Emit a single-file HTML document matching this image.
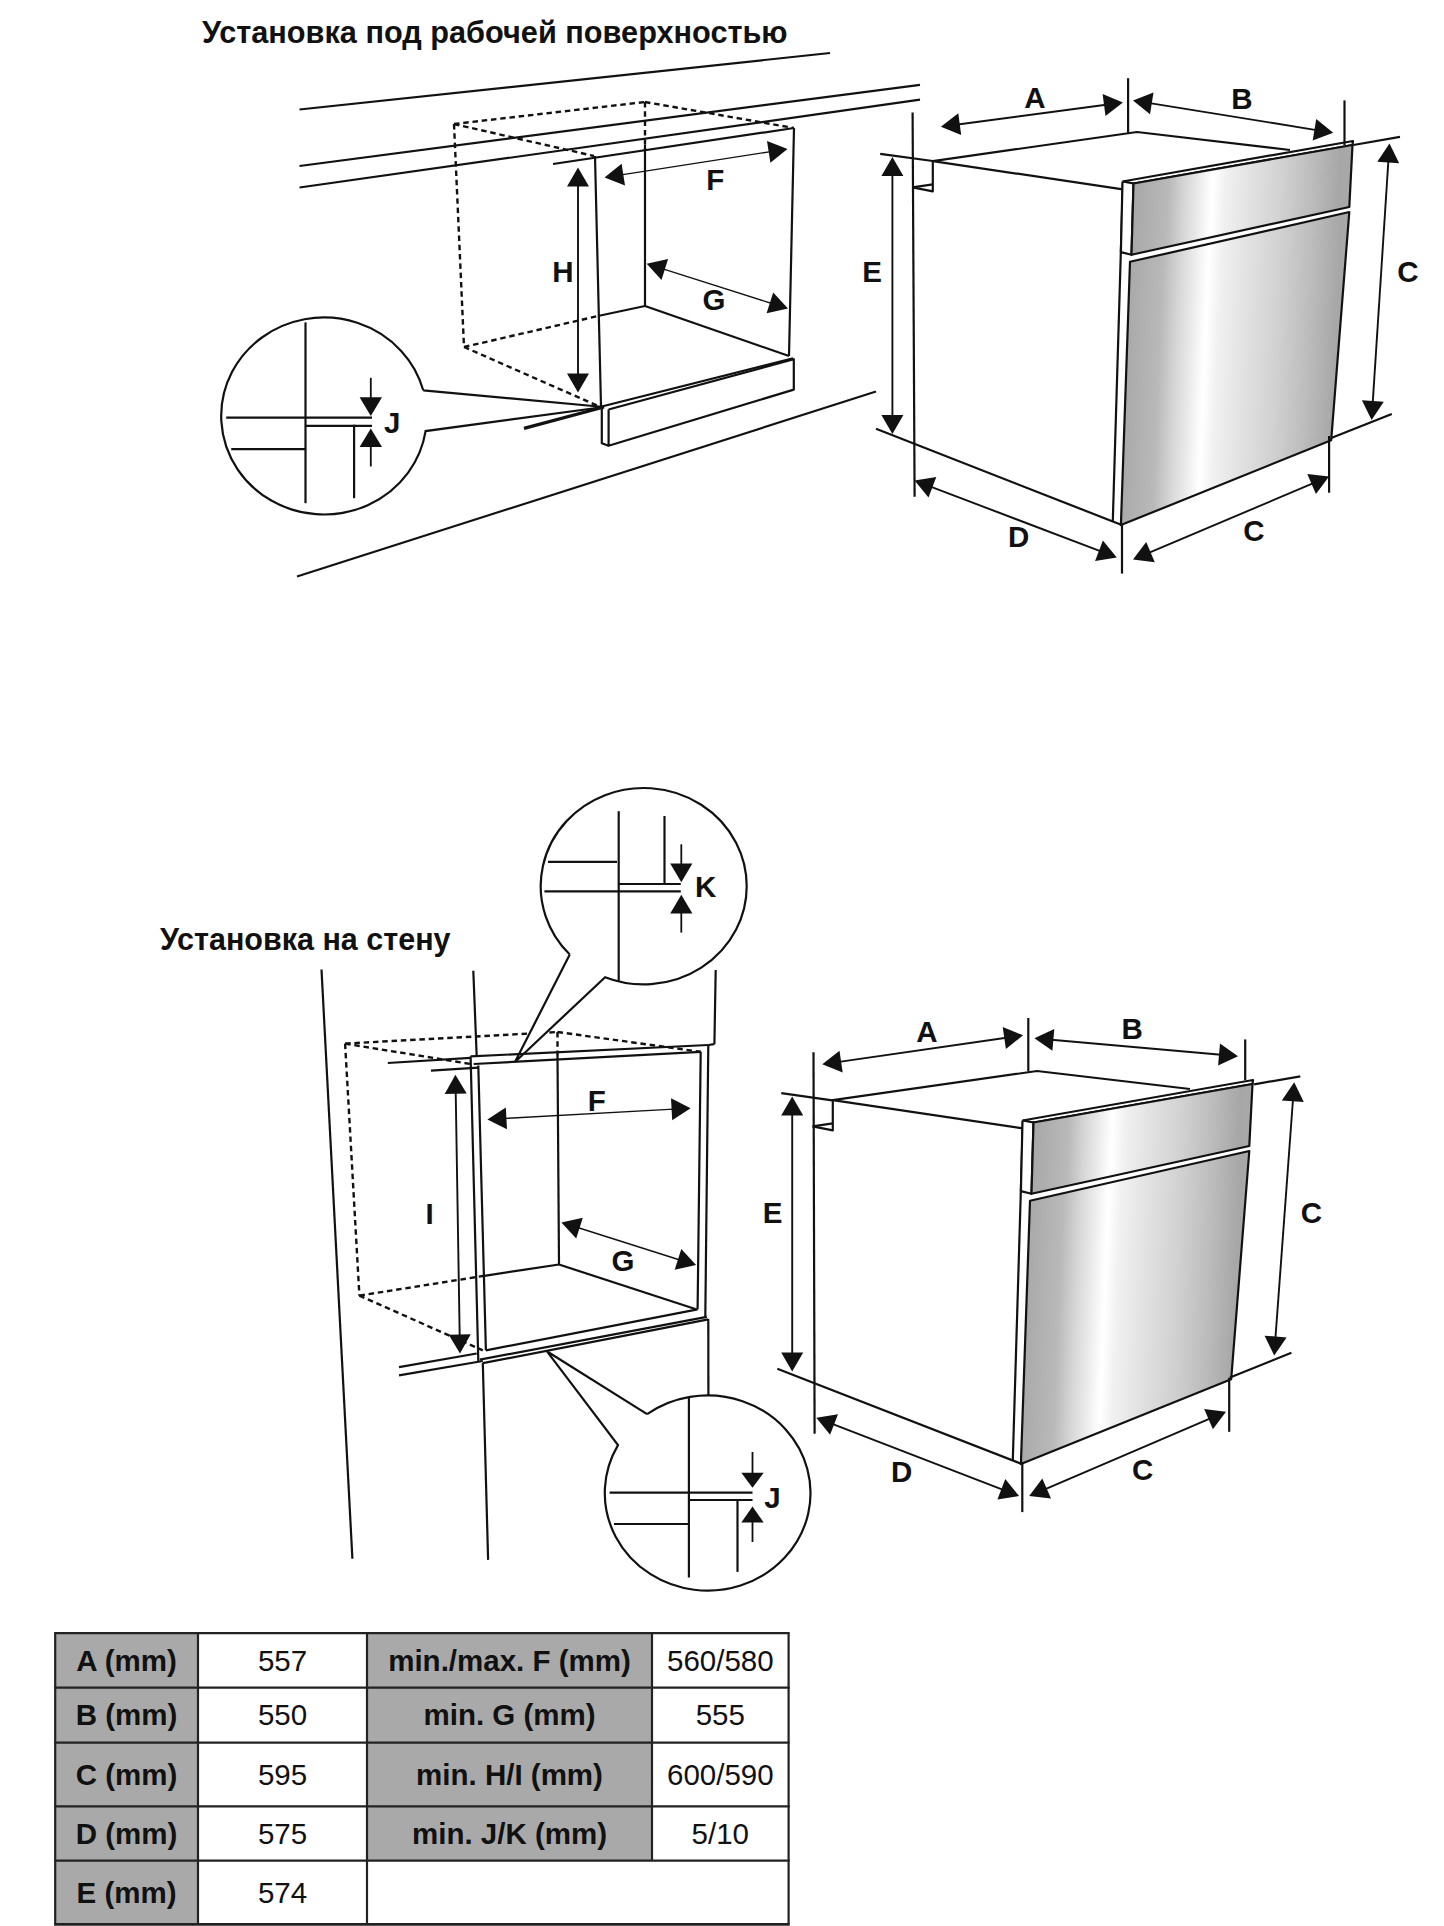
<!DOCTYPE html>
<html><head><meta charset="utf-8"><style>
html,body{margin:0;padding:0;background:#fff;width:1444px;height:1926px;overflow:hidden}
svg{display:block}
text{font-family:"Liberation Sans",sans-serif;fill:#111;stroke:none}
</style></head><body>
<svg width="1444" height="1926" viewBox="0 0 1444 1926" stroke="#111" stroke-linecap="butt" fill="none">
<defs>
<linearGradient id="steelDoor" x1="0" y1="0" x2="1" y2="0" gradientTransform="translate(0.0275,0) skewX(-3.15)">
<stop offset="0" stop-color="#a6a6a6"/>
<stop offset="0.04" stop-color="#ababab"/>
<stop offset="0.166" stop-color="#b9b9b9"/>
<stop offset="0.235" stop-color="#d5d5d5"/>
<stop offset="0.303" stop-color="#ebebeb"/>
<stop offset="0.351" stop-color="#fcfcfc"/>
<stop offset="0.365" stop-color="#ffffff"/>
<stop offset="0.378" stop-color="#fcfcfc"/>
<stop offset="0.419" stop-color="#f1f1f1"/>
<stop offset="0.542" stop-color="#e1e1e1"/>
<stop offset="0.678" stop-color="#d1d1d1"/>
<stop offset="0.815" stop-color="#bcbcbc"/>
<stop offset="0.937" stop-color="#a7a7a7"/>
<stop offset="1" stop-color="#a9a9a9"/>
</linearGradient>
<linearGradient id="steelPanel" x1="0" y1="0" x2="1" y2="0" gradientTransform="translate(0.01,0) skewX(-1.15)">
<stop offset="0" stop-color="#a6a6a6"/>
<stop offset="0.04" stop-color="#ababab"/>
<stop offset="0.166" stop-color="#b9b9b9"/>
<stop offset="0.235" stop-color="#d5d5d5"/>
<stop offset="0.303" stop-color="#ebebeb"/>
<stop offset="0.351" stop-color="#fcfcfc"/>
<stop offset="0.365" stop-color="#ffffff"/>
<stop offset="0.378" stop-color="#fcfcfc"/>
<stop offset="0.419" stop-color="#f1f1f1"/>
<stop offset="0.542" stop-color="#e1e1e1"/>
<stop offset="0.678" stop-color="#d1d1d1"/>
<stop offset="0.815" stop-color="#bcbcbc"/>
<stop offset="0.937" stop-color="#a7a7a7"/>
<stop offset="1" stop-color="#a9a9a9"/>
</linearGradient>
</defs>
<text x="202.0" y="43.3" font-size="30.7" font-weight="bold" text-anchor="start" >Установка под рабочей поверхностью</text>
<text x="160.0" y="949.5" font-size="30.5" font-weight="bold" text-anchor="start" >Установка на стену</text>
<line x1="299.5" y1="109.5" x2="830.0" y2="53.0" stroke-width="2.2" />
<line x1="299.5" y1="166.0" x2="920.0" y2="84.8" stroke-width="2.2" />
<line x1="299.5" y1="187.5" x2="920.0" y2="99.7" stroke-width="2.2" />
<line x1="297.0" y1="576.5" x2="876.0" y2="391.5" stroke-width="2.2" />
<line x1="454.0" y1="124.0" x2="645.0" y2="102.0" stroke-width="2.4" stroke-dasharray="5.5 3.8"/>
<line x1="645.0" y1="102.0" x2="794.0" y2="128.0" stroke-width="2.4" stroke-dasharray="5.5 3.8"/>
<line x1="454.0" y1="124.0" x2="594.0" y2="156.0" stroke-width="2.4" stroke-dasharray="5.5 3.8"/>
<line x1="454.0" y1="124.0" x2="464.0" y2="347.0" stroke-width="2.4" stroke-dasharray="5.5 3.8"/>
<line x1="464.0" y1="347.0" x2="598.0" y2="316.0" stroke-width="2.4" stroke-dasharray="5.5 3.8"/>
<line x1="464.0" y1="347.0" x2="598.0" y2="406.0" stroke-width="2.4" stroke-dasharray="5.5 3.8"/>
<line x1="645.0" y1="102.0" x2="645.0" y2="150.0" stroke-width="2.4" stroke-dasharray="5.5 3.8"/>
<line x1="553.0" y1="164.0" x2="794.0" y2="128.0" stroke-width="2.2" />
<line x1="595.0" y1="156.0" x2="601.0" y2="406.0" stroke-width="2.2" />
<line x1="794.0" y1="128.0" x2="789.0" y2="356.0" stroke-width="2.2" />
<line x1="645.0" y1="145.0" x2="645.0" y2="306.0" stroke-width="2.2" />
<line x1="598.0" y1="316.0" x2="645.0" y2="306.0" stroke-width="2.2" />
<line x1="645.0" y1="306.0" x2="789.0" y2="356.0" stroke-width="2.2" />
<polyline points="601.8,406.5 793.0,358.4" fill="none" stroke-width="2.2" stroke-linejoin="round" />
<polyline points="608.6,409.5 608.6,445.7 793.8,389.6 793.8,359.2 608.6,409.5" fill="none" stroke-width="2.2" stroke-linejoin="round" />
<polyline points="601.8,406.5 601.8,443.2 608.6,445.7" fill="none" stroke-width="2.2" stroke-linejoin="round" />
<polygon points="578.0,167.5 589.0,186.5 567.0,186.5" fill="#111" stroke="none"/>
<polygon points="578.0,392.6 567.0,373.6 589.0,373.6" fill="#111" stroke="none"/>
<line x1="578.0" y1="184.5" x2="578.0" y2="375.6" stroke-width="1.9" />
<polygon points="604.5,177.5 621.6,163.7 625.0,185.4" fill="#111" stroke="none"/>
<polygon points="787.5,149.0 770.4,162.8 767.0,141.1" fill="#111" stroke="none"/>
<line x1="621.3" y1="174.9" x2="770.7" y2="151.6" stroke-width="1.35" />
<polygon points="646.7,263.7 668.1,259.0 661.5,279.9" fill="#111" stroke="none"/>
<polygon points="788.0,308.6 766.6,313.3 773.2,292.4" fill="#111" stroke="none"/>
<line x1="662.9" y1="268.8" x2="771.8" y2="303.5" stroke-width="1.35" />
<text x="563.0" y="281.9" font-size="29.5" font-weight="bold" text-anchor="middle" >H</text>
<text x="715.2" y="190.0" font-size="29.5" font-weight="bold" text-anchor="middle" >F</text>
<text x="714.1" y="309.8" font-size="29.5" font-weight="bold" text-anchor="middle" >G</text>
<path d="M423.24,390.29 L604,407 L425.59,431.08 A102.8,98.5 0 1 1 423.24,390.29" fill="none" stroke-width="2.2" stroke-linejoin="miter"/>
<line x1="524.0" y1="428.4" x2="604.0" y2="407.0" stroke-width="3.2" />
<line x1="305.5" y1="322.4" x2="305.5" y2="503.2" stroke-width="2.2" />
<line x1="226.2" y1="417.7" x2="372.0" y2="417.7" stroke-width="2.2" />
<line x1="306.0" y1="425.9" x2="372.0" y2="425.9" stroke-width="2.2" />
<line x1="354.1" y1="424.7" x2="354.1" y2="498.2" stroke-width="2.2" />
<line x1="231.2" y1="449.1" x2="305.5" y2="449.1" stroke-width="2.2" />
<polygon points="370.8,415.9 359.6,397.2 382.0,397.2" fill="#111" stroke="none"/>
<line x1="370.8" y1="399.2" x2="370.8" y2="377.8" stroke-width="1.8" />
<polygon points="370.8,428.4 382.0,447.1 359.6,447.1" fill="#111" stroke="none"/>
<line x1="370.8" y1="445.1" x2="370.8" y2="466.5" stroke-width="1.8" />
<text x="392.2" y="433.4" font-size="29.5" font-weight="bold" text-anchor="middle" >J</text>
<g transform="translate(0,0)">
<polyline points="912.6,187.4 932.8,191.4 932.8,161.1 1137.0,132.0 1290.0,150.0" fill="none" stroke-width="2.2" stroke-linejoin="round" />
<line x1="912.6" y1="187.4" x2="932.8" y2="184.3" stroke-width="2.2" />
<line x1="932.8" y1="161.1" x2="1122.9" y2="189.4" stroke-width="2.2" />
<line x1="1122.9" y1="183.4" x2="1112.8" y2="521.0" stroke-width="2.2" />
<polyline points="1122.5,181.5 1353.0,141.0 1352.5,145.0 1133.5,183.5 1122.5,181.5" fill="#fff" stroke-width="2.2" stroke-linejoin="round" />
<polyline points="1122.5,181.5 1133.5,183.5 1131.5,254.8 1120.9,252.1 1122.5,181.5" fill="#fff" stroke-width="2.2" stroke-linejoin="round" />
<polygon points="1133.5,183.5 1352.5,145.0 1349.3,207.0 1131.5,254.8" fill="url(#steelPanel)" stroke-width="2.2" stroke-linejoin="round" />
<polygon points="1130.0,261.8 1349.3,212.0 1331.2,440.2 1120.9,525.1" fill="url(#steelDoor)" stroke-width="2.2" stroke-linejoin="round" />
</g>
<line x1="912.6" y1="112.6" x2="914.6" y2="496.8" stroke-width="2.2" />
<line x1="876.0" y1="428.8" x2="1120.5" y2="524.5" stroke-width="2.2" />
<polygon points="940.9,126.7 958.3,113.3 961.2,135.1" fill="#111" stroke="none"/>
<polygon points="1122.9,102.5 1105.5,115.9 1102.6,94.1" fill="#111" stroke="none"/>
<line x1="957.8" y1="124.5" x2="1106.0" y2="104.7" stroke-width="1.9" />
<line x1="1128.1" y1="78.2" x2="1128.1" y2="132.8" stroke-width="2.2" />
<polygon points="1133.0,100.4 1153.5,92.6 1150.0,114.3" fill="#111" stroke="none"/>
<polygon points="1333.2,132.8 1312.7,140.6 1316.2,118.9" fill="#111" stroke="none"/>
<line x1="1149.8" y1="103.1" x2="1316.4" y2="130.1" stroke-width="1.9" />
<line x1="1344.5" y1="100.4" x2="1344.5" y2="145.0" stroke-width="2.2" />
<line x1="1353.4" y1="145.0" x2="1400.0" y2="136.8" stroke-width="2.2" />
<polygon points="1389.5,143.5 1399.2,163.2 1377.3,161.7" fill="#111" stroke="none"/>
<polygon points="1371.6,420.0 1361.9,400.3 1383.8,401.8" fill="#111" stroke="none"/>
<line x1="1388.4" y1="160.5" x2="1372.7" y2="403.0" stroke-width="1.9" />
<line x1="1331.2" y1="438.1" x2="1391.8" y2="413.9" stroke-width="2.2" />
<line x1="1329.1" y1="436.0" x2="1329.1" y2="492.7" stroke-width="2.2" />
<polygon points="1133.0,559.5 1146.2,542.0 1154.8,562.2" fill="#111" stroke="none"/>
<polygon points="1329.1,476.6 1315.9,494.1 1307.3,473.9" fill="#111" stroke="none"/>
<line x1="1148.7" y1="552.9" x2="1313.4" y2="483.2" stroke-width="1.9" />
<line x1="1122.0" y1="525.0" x2="1122.0" y2="573.6" stroke-width="2.2" />
<polygon points="914.6,480.6 936.3,477.1 928.5,497.6" fill="#111" stroke="none"/>
<polygon points="1116.8,557.4 1095.1,560.9 1102.9,540.4" fill="#111" stroke="none"/>
<line x1="930.5" y1="486.6" x2="1100.9" y2="551.4" stroke-width="1.9" />
<polygon points="892.4,157.0 903.4,176.0 881.4,176.0" fill="#111" stroke="none"/>
<polygon points="892.4,434.0 881.4,415.0 903.4,415.0" fill="#111" stroke="none"/>
<line x1="892.4" y1="174.0" x2="892.4" y2="417.0" stroke-width="1.9" />
<line x1="880.2" y1="153.8" x2="932.8" y2="161.0" stroke-width="2.2" />
<text x="1035.0" y="107.8" font-size="29.5" font-weight="bold" text-anchor="middle" >A</text>
<text x="1242.0" y="108.5" font-size="29.5" font-weight="bold" text-anchor="middle" >B</text>
<text x="1408.0" y="282.0" font-size="29.5" font-weight="bold" text-anchor="middle" >C</text>
<text x="1254.0" y="541.0" font-size="29.5" font-weight="bold" text-anchor="middle" >C</text>
<text x="1018.7" y="547.0" font-size="29.5" font-weight="bold" text-anchor="middle" >D</text>
<text x="872.0" y="282.0" font-size="29.5" font-weight="bold" text-anchor="middle" >E</text>
<line x1="321.5" y1="969.5" x2="352.4" y2="1558.8" stroke-width="2.2" />
<line x1="473.3" y1="970.7" x2="476.7" y2="1056.4" stroke-width="2.2" />
<line x1="482.8" y1="1363.0" x2="488.1" y2="1559.9" stroke-width="2.2" />
<line x1="715.7" y1="970.0" x2="714.4" y2="1044.2" stroke-width="2.2" />
<line x1="708.3" y1="1045.0" x2="714.4" y2="1044.2" stroke-width="2.2" />
<line x1="345.1" y1="1043.6" x2="557.5" y2="1032.0" stroke-width="2.4" stroke-dasharray="5.5 3.8"/>
<line x1="557.5" y1="1032.0" x2="700.7" y2="1051.8" stroke-width="2.4" stroke-dasharray="5.5 3.8"/>
<line x1="345.1" y1="1043.6" x2="470.6" y2="1064.0" stroke-width="2.4" stroke-dasharray="5.5 3.8"/>
<line x1="345.1" y1="1043.6" x2="359.4" y2="1295.6" stroke-width="2.4" stroke-dasharray="5.5 3.8"/>
<line x1="359.4" y1="1295.6" x2="484.3" y2="1275.8" stroke-width="2.4" stroke-dasharray="5.5 3.8"/>
<line x1="359.4" y1="1295.6" x2="482.8" y2="1350.4" stroke-width="2.4" stroke-dasharray="5.5 3.8"/>
<line x1="557.5" y1="1032.0" x2="557.5" y2="1056.0" stroke-width="2.4" stroke-dasharray="5.5 3.8"/>
<path d="M569.75,954.55 L515,1062 L605.10,977.24 A103,98.2 0 1 0 569.75,954.55" fill="#fff" stroke-width="2.2" stroke-linejoin="miter"/>
<line x1="618.7" y1="811.2" x2="618.7" y2="980.7" stroke-width="2.2" />
<line x1="664.5" y1="816.0" x2="664.5" y2="884.7" stroke-width="2.2" />
<line x1="548.0" y1="861.8" x2="617.0" y2="861.8" stroke-width="2.2" />
<line x1="544.4" y1="891.4" x2="680.8" y2="891.4" stroke-width="2.2" />
<line x1="618.7" y1="884.0" x2="680.8" y2="884.0" stroke-width="2.2" />
<polygon points="681.3,882.2 670.2,863.5 692.4,863.5" fill="#111" stroke="none"/>
<line x1="681.3" y1="865.5" x2="681.3" y2="844.3" stroke-width="1.8" />
<polygon points="681.3,894.7 692.4,913.4 670.2,913.4" fill="#111" stroke="none"/>
<line x1="681.3" y1="911.4" x2="681.3" y2="932.6" stroke-width="1.8" />
<text x="705.7" y="897.2" font-size="29.5" font-weight="bold" text-anchor="middle" >K</text>
<line x1="470.6" y1="1056.4" x2="478.3" y2="1361.0" stroke-width="2.2" />
<line x1="478.3" y1="1065.5" x2="485.9" y2="1350.4" stroke-width="2.2" />
<line x1="473.7" y1="1064.0" x2="700.7" y2="1051.8" stroke-width="2.2" />
<line x1="470.6" y1="1056.4" x2="708.3" y2="1045.0" stroke-width="2.2" />
<line x1="708.3" y1="1045.0" x2="705.3" y2="1316.9" stroke-width="2.2" />
<line x1="700.7" y1="1051.8" x2="697.6" y2="1309.3" stroke-width="2.2" />
<line x1="485.9" y1="1350.4" x2="697.6" y2="1309.3" stroke-width="2.2" />
<line x1="479.8" y1="1359.6" x2="706.8" y2="1316.9" stroke-width="2.2" />
<line x1="482.8" y1="1363.2" x2="708.3" y2="1319.3" stroke-width="2.2" />
<line x1="708.3" y1="1319.0" x2="708.4" y2="1395.0" stroke-width="2.2" />
<line x1="557.5" y1="1056.0" x2="559.0" y2="1264.5" stroke-width="2.2" />
<polyline points="484.3,1275.8 559.0,1264.5 696.1,1309.3" fill="none" stroke-width="2.2" stroke-linejoin="round" />
<line x1="387.8" y1="1063.0" x2="470.6" y2="1057.9" stroke-width="2.2" />
<line x1="431.0" y1="1070.7" x2="478.3" y2="1067.6" stroke-width="2.2" />
<line x1="399.0" y1="1367.2" x2="476.7" y2="1353.5" stroke-width="2.2" />
<line x1="399.0" y1="1375.4" x2="482.8" y2="1361.0" stroke-width="2.2" />
<polygon points="455.4,1074.7 466.7,1093.5 444.7,1093.9" fill="#111" stroke="none"/>
<polygon points="460.0,1353.5 448.7,1334.7 470.7,1334.3" fill="#111" stroke="none"/>
<line x1="455.7" y1="1091.7" x2="459.7" y2="1336.5" stroke-width="1.9" />
<polygon points="487.4,1119.4 505.8,1107.4 507.0,1129.3" fill="#111" stroke="none"/>
<polygon points="690.6,1108.2 672.2,1120.2 671.0,1098.3" fill="#111" stroke="none"/>
<line x1="504.4" y1="1118.5" x2="673.6" y2="1109.1" stroke-width="1.35" />
<polygon points="561.4,1222.4 582.8,1217.7 576.2,1238.6" fill="#111" stroke="none"/>
<polygon points="696.1,1265.1 674.7,1269.8 681.3,1248.9" fill="#111" stroke="none"/>
<line x1="577.6" y1="1227.5" x2="679.9" y2="1260.0" stroke-width="1.35" />
<text x="429.5" y="1224.0" font-size="29.5" font-weight="bold" text-anchor="middle" >I</text>
<text x="596.8" y="1111.2" font-size="29.5" font-weight="bold" text-anchor="middle" >F</text>
<text x="623.0" y="1271.2" font-size="29.5" font-weight="bold" text-anchor="middle" >G</text>
<path d="M647.09,1414.11 L546.8,1351.2 L617.99,1445.18 A102.85,97.6 0 1 0 647.09,1414.11" fill="none" stroke-width="2.2" stroke-linejoin="miter"/>
<line x1="688.9" y1="1398.0" x2="688.9" y2="1577.5" stroke-width="2.2" />
<line x1="737.5" y1="1500.8" x2="737.5" y2="1571.9" stroke-width="2.2" />
<line x1="609.6" y1="1492.6" x2="752.5" y2="1492.6" stroke-width="2.2" />
<line x1="688.9" y1="1500.0" x2="752.5" y2="1500.0" stroke-width="2.2" />
<line x1="614.0" y1="1524.0" x2="688.9" y2="1524.0" stroke-width="2.2" />
<polygon points="752.5,1487.7 741.3,1472.7 763.7,1472.7" fill="#111" stroke="none"/>
<line x1="752.5" y1="1474.7" x2="752.5" y2="1452.0" stroke-width="1.8" />
<polygon points="752.5,1506.4 763.7,1522.4 741.3,1522.4" fill="#111" stroke="none"/>
<line x1="752.5" y1="1520.4" x2="752.5" y2="1542.0" stroke-width="1.8" />
<text x="772.5" y="1508.3" font-size="29.5" font-weight="bold" text-anchor="middle" >J</text>
<g transform="translate(-100,939)">
<polyline points="912.6,187.4 932.8,191.4 932.8,161.1 1137.0,132.0 1290.0,150.0" fill="none" stroke-width="2.2" stroke-linejoin="round" />
<line x1="912.6" y1="187.4" x2="932.8" y2="184.3" stroke-width="2.2" />
<line x1="932.8" y1="161.1" x2="1122.9" y2="189.4" stroke-width="2.2" />
<line x1="1122.9" y1="183.4" x2="1112.8" y2="521.0" stroke-width="2.2" />
<polyline points="1122.5,181.5 1353.0,141.0 1352.5,145.0 1133.5,183.5 1122.5,181.5" fill="#fff" stroke-width="2.2" stroke-linejoin="round" />
<polyline points="1122.5,181.5 1133.5,183.5 1131.5,254.8 1120.9,252.1 1122.5,181.5" fill="#fff" stroke-width="2.2" stroke-linejoin="round" />
<polygon points="1133.5,183.5 1352.5,145.0 1349.3,207.0 1131.5,254.8" fill="url(#steelPanel)" stroke-width="2.2" stroke-linejoin="round" />
<polygon points="1130.0,261.8 1349.3,212.0 1331.2,440.2 1120.9,525.1" fill="url(#steelDoor)" stroke-width="2.2" stroke-linejoin="round" />
</g>
<line x1="813.5" y1="1052.2" x2="814.6" y2="1433.8" stroke-width="2.2" />
<line x1="777.3" y1="1368.7" x2="1020.5" y2="1463.5" stroke-width="2.2" />
<polygon points="822.3,1064.3 839.5,1050.7 842.7,1072.5" fill="#111" stroke="none"/>
<polygon points="1023.1,1035.3 1005.9,1048.9 1002.7,1027.1" fill="#111" stroke="none"/>
<line x1="839.1" y1="1061.9" x2="1006.3" y2="1037.7" stroke-width="1.9" />
<line x1="1028.3" y1="1018.0" x2="1028.3" y2="1071.5" stroke-width="2.2" />
<polygon points="1034.4,1038.2 1054.3,1028.9 1052.4,1050.8" fill="#111" stroke="none"/>
<polygon points="1238.0,1056.2 1218.1,1065.5 1220.0,1043.6" fill="#111" stroke="none"/>
<line x1="1051.3" y1="1039.7" x2="1221.1" y2="1054.7" stroke-width="1.9" />
<line x1="1245.2" y1="1039.4" x2="1245.2" y2="1080.3" stroke-width="2.2" />
<line x1="1254.1" y1="1084.3" x2="1300.3" y2="1076.3" stroke-width="2.2" />
<polygon points="1294.2,1082.3 1303.8,1102.1 1281.8,1100.4" fill="#111" stroke="none"/>
<polygon points="1274.2,1355.5 1264.6,1335.7 1286.6,1337.4" fill="#111" stroke="none"/>
<line x1="1293.0" y1="1099.3" x2="1275.4" y2="1338.5" stroke-width="1.9" />
<line x1="1230.0" y1="1377.6" x2="1291.4" y2="1352.7" stroke-width="2.2" />
<line x1="1229.2" y1="1377.6" x2="1229.2" y2="1431.8" stroke-width="2.2" />
<polygon points="1029.2,1496.0 1042.3,1478.4 1051.0,1498.6" fill="#111" stroke="none"/>
<polygon points="1226.0,1411.7 1212.9,1429.3 1204.2,1409.1" fill="#111" stroke="none"/>
<line x1="1044.8" y1="1489.3" x2="1210.4" y2="1418.4" stroke-width="1.9" />
<line x1="1022.3" y1="1461.9" x2="1022.3" y2="1512.1" stroke-width="2.2" />
<polygon points="816.3,1417.7 838.0,1414.3 830.1,1434.8" fill="#111" stroke="none"/>
<polygon points="1019.1,1496.0 997.4,1499.4 1005.3,1478.9" fill="#111" stroke="none"/>
<line x1="832.2" y1="1423.8" x2="1003.2" y2="1489.9" stroke-width="1.9" />
<polygon points="792.2,1096.4 803.2,1115.4 781.2,1115.4" fill="#111" stroke="none"/>
<polygon points="792.2,1371.5 781.2,1352.5 803.2,1352.5" fill="#111" stroke="none"/>
<line x1="792.2" y1="1113.4" x2="792.2" y2="1354.5" stroke-width="1.9" />
<line x1="781.3" y1="1093.2" x2="832.3" y2="1100.4" stroke-width="2.2" />
<text x="926.8" y="1042.2" font-size="29.5" font-weight="bold" text-anchor="middle" >A</text>
<text x="1132.2" y="1039.4" font-size="29.5" font-weight="bold" text-anchor="middle" >B</text>
<text x="1311.3" y="1222.9" font-size="29.5" font-weight="bold" text-anchor="middle" >C</text>
<text x="1142.6" y="1480.0" font-size="29.5" font-weight="bold" text-anchor="middle" >C</text>
<text x="901.7" y="1482.0" font-size="29.5" font-weight="bold" text-anchor="middle" >D</text>
<text x="772.6" y="1222.9" font-size="29.5" font-weight="bold" text-anchor="middle" >E</text>
<rect x="55.2" y="1633.2" width="142.8" height="54.5" fill="#a9a9a9" stroke="none"/>
<text x="126.6" y="1670.6" font-size="29.5" font-weight="bold" text-anchor="middle" >A (mm)</text>
<text x="282.5" y="1670.6" font-size="29.5" font-weight="normal" text-anchor="middle" >557</text>
<rect x="367" y="1633.2" width="285" height="54.5" fill="#a9a9a9" stroke="none"/>
<text x="509.5" y="1670.6" font-size="29.5" font-weight="bold" text-anchor="middle" >min./max. F (mm)</text>
<text x="720.3" y="1670.6" font-size="29.5" font-weight="normal" text-anchor="middle" >560/580</text>
<rect x="55.2" y="1687.7" width="142.8" height="54.899999999999864" fill="#a9a9a9" stroke="none"/>
<text x="126.6" y="1725.3" font-size="29.5" font-weight="bold" text-anchor="middle" >B (mm)</text>
<text x="282.5" y="1725.3" font-size="29.5" font-weight="normal" text-anchor="middle" >550</text>
<rect x="367" y="1687.7" width="285" height="54.899999999999864" fill="#a9a9a9" stroke="none"/>
<text x="509.5" y="1725.3" font-size="29.5" font-weight="bold" text-anchor="middle" >min. G (mm)</text>
<text x="720.3" y="1725.3" font-size="29.5" font-weight="normal" text-anchor="middle" >555</text>
<rect x="55.2" y="1742.6" width="142.8" height="63.700000000000045" fill="#a9a9a9" stroke="none"/>
<text x="126.6" y="1784.6" font-size="29.5" font-weight="bold" text-anchor="middle" >C (mm)</text>
<text x="282.5" y="1784.6" font-size="29.5" font-weight="normal" text-anchor="middle" >595</text>
<rect x="367" y="1742.6" width="285" height="63.700000000000045" fill="#a9a9a9" stroke="none"/>
<text x="509.5" y="1784.6" font-size="29.5" font-weight="bold" text-anchor="middle" >min. H/I (mm)</text>
<text x="720.3" y="1784.6" font-size="29.5" font-weight="normal" text-anchor="middle" >600/590</text>
<rect x="55.2" y="1806.3" width="142.8" height="54.299999999999955" fill="#a9a9a9" stroke="none"/>
<text x="126.6" y="1843.6" font-size="29.5" font-weight="bold" text-anchor="middle" >D (mm)</text>
<text x="282.5" y="1843.6" font-size="29.5" font-weight="normal" text-anchor="middle" >575</text>
<rect x="367" y="1806.3" width="285" height="54.299999999999955" fill="#a9a9a9" stroke="none"/>
<text x="509.5" y="1843.6" font-size="29.5" font-weight="bold" text-anchor="middle" >min. J/K (mm)</text>
<text x="720.3" y="1843.6" font-size="29.5" font-weight="normal" text-anchor="middle" >5/10</text>
<rect x="55.2" y="1860.6" width="142.8" height="63.80000000000018" fill="#a9a9a9" stroke="none"/>
<text x="126.6" y="1902.6" font-size="29.5" font-weight="bold" text-anchor="middle" >E (mm)</text>
<text x="282.5" y="1902.6" font-size="29.5" font-weight="normal" text-anchor="middle" >574</text>
<line x1="55.2" y1="1633.2" x2="55.2" y2="1924.4" stroke="#222" stroke-width="2.2"/>
<line x1="198" y1="1633.2" x2="198" y2="1924.4" stroke="#222" stroke-width="2.2"/>
<line x1="367" y1="1633.2" x2="367" y2="1924.4" stroke="#222" stroke-width="2.2"/>
<line x1="652" y1="1633.2" x2="652" y2="1860.6" stroke="#222" stroke-width="2.2"/>
<line x1="788.6" y1="1633.2" x2="788.6" y2="1924.4" stroke="#222" stroke-width="2.2"/>
<line x1="54.1" y1="1633.2" x2="789.7" y2="1633.2" stroke="#222" stroke-width="2.2"/>
<line x1="54.1" y1="1687.7" x2="789.7" y2="1687.7" stroke="#222" stroke-width="2.2"/>
<line x1="54.1" y1="1742.6" x2="789.7" y2="1742.6" stroke="#222" stroke-width="2.2"/>
<line x1="54.1" y1="1806.3" x2="789.7" y2="1806.3" stroke="#222" stroke-width="2.2"/>
<line x1="54.1" y1="1860.6" x2="789.7" y2="1860.6" stroke="#222" stroke-width="2.2"/>
<line x1="54.1" y1="1924.4" x2="789.7" y2="1924.4" stroke="#222" stroke-width="2.8"/>
</svg>
</body></html>
